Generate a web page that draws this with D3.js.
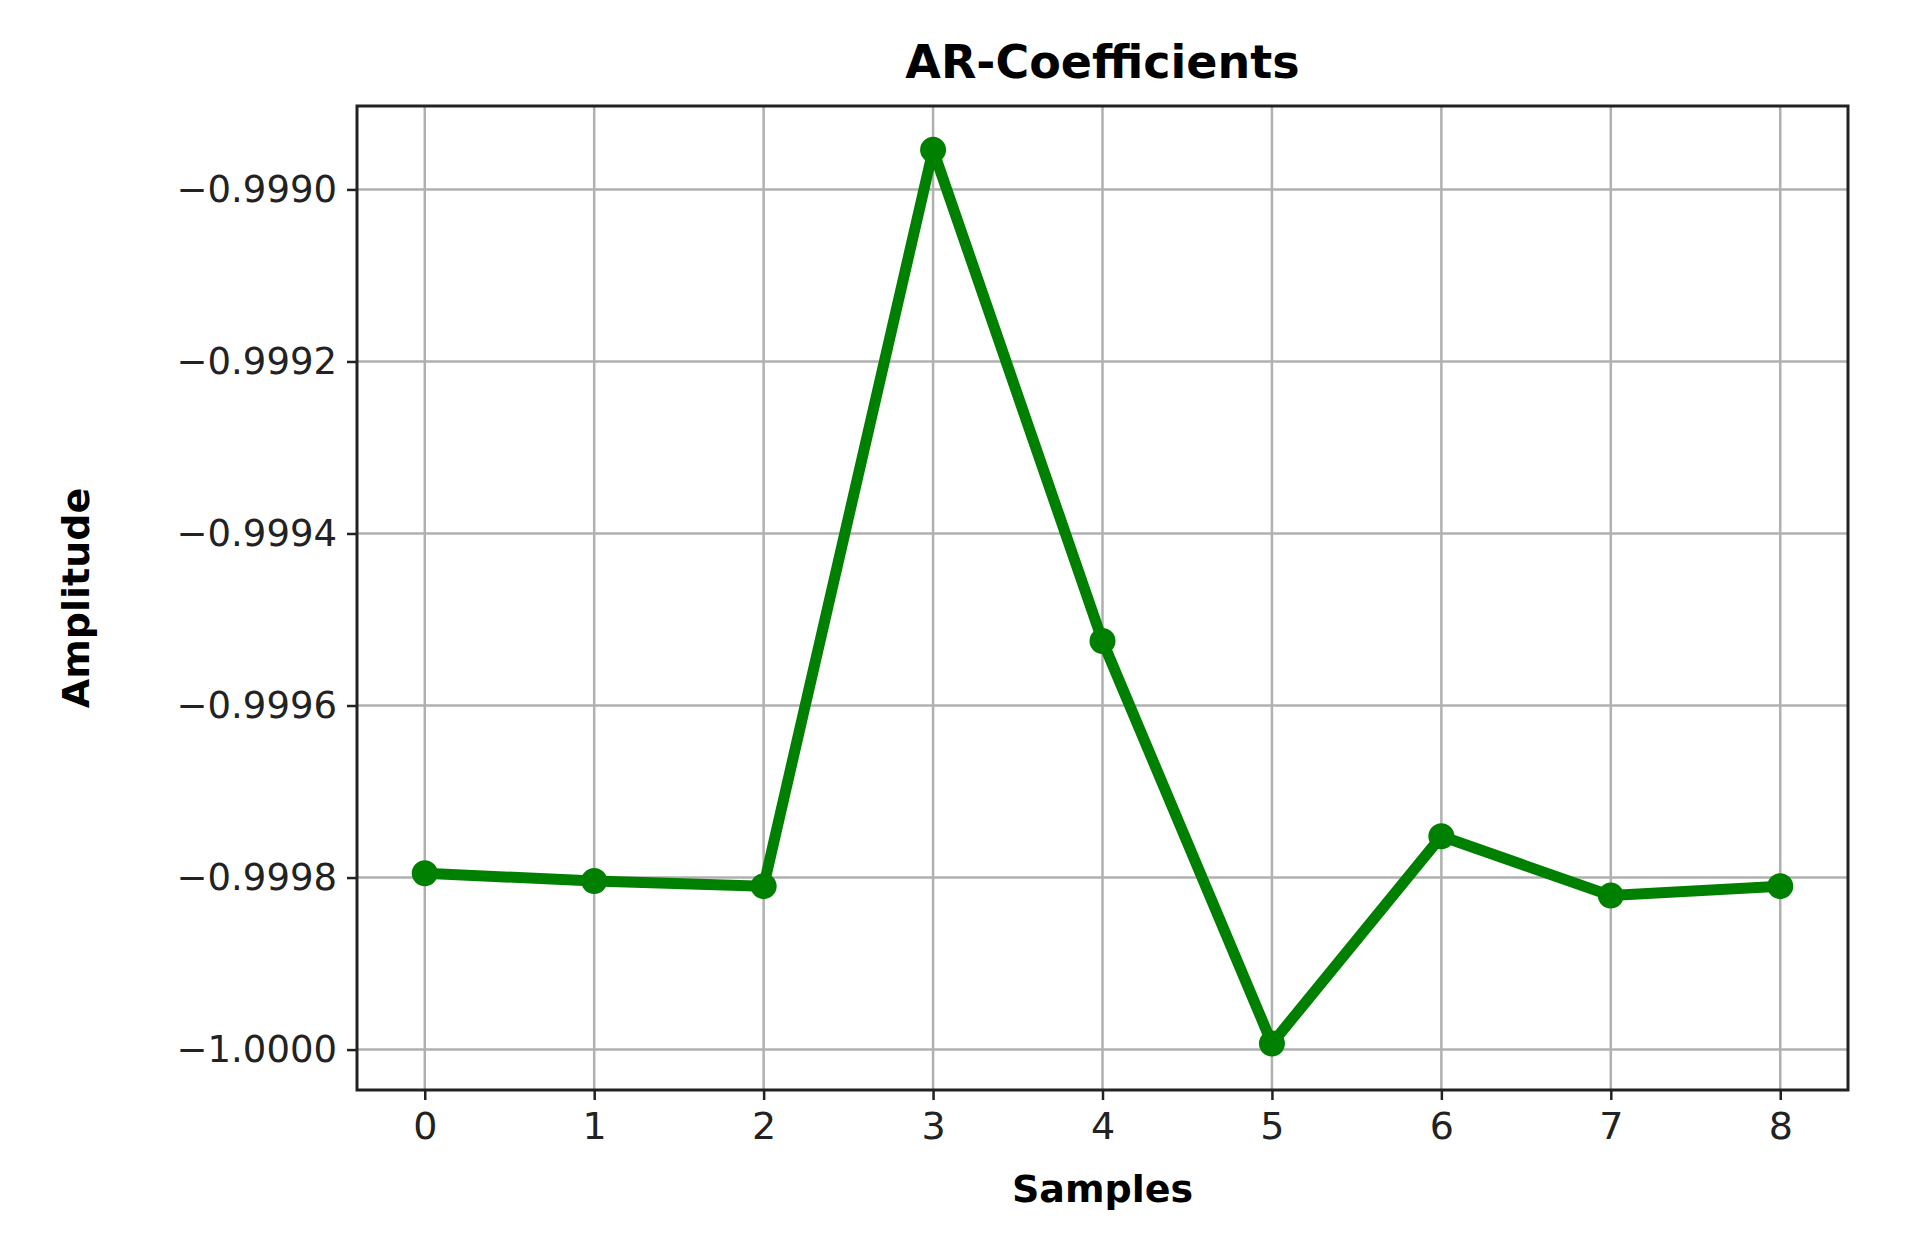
<!DOCTYPE html>
<html>
<head>
<meta charset="utf-8">
<script src="https://cdn.jsdelivr.net/npm/d3@7"></script>
<style>
  body { margin: 0; background: #fff; }
  text { font-family: "DejaVu Sans", sans-serif; }
</style>
</head>
<body>
<div id="chart"></div>
<script>
// Data
const samples = [0, 1, 2, 3, 4, 5, 6, 7, 8];
const amplitude = [-0.999795, -0.999804, -0.999810, -0.998954, -0.999525, -0.999993, -0.999752, -0.999821, -0.999810];
const yTicks = [-1.0000, -0.9998, -0.9996, -0.9994, -0.9992, -0.9990];

const W = 1906, H = 1254;
const margin = {top: 106, right: 58, bottom: 164, left: 357};
const width = W - margin.left - margin.right,
      height = H - margin.top - margin.bottom;

const svg = d3.select("#chart").append("svg")
    .attr("width", W)
    .attr("height", H)
  .append("g")
    .attr("transform", "translate(" + margin.left + "," + margin.top + ")");

const x = d3.scaleLinear().domain([-0.4, 8.4]).range([0, width]);
const y = d3.scaleLinear().domain([-1.000047, -0.998903]).range([height, 0]);

// grid
svg.append("g").selectAll("line").data(samples).enter().append("line")
    .attr("x1", d => x(d)).attr("x2", d => x(d))
    .attr("y1", 0).attr("y2", height)
    .attr("stroke", "#b0b0b0").attr("stroke-width", 2.5);
svg.append("g").selectAll("line").data(yTicks).enter().append("line")
    .attr("y1", d => y(d)).attr("y2", d => y(d))
    .attr("x1", 0).attr("x2", width)
    .attr("stroke", "#b0b0b0").attr("stroke-width", 2.5);

const xAxis = d3.axisBottom(x).tickValues(samples).tickSize(10).tickPadding(12);
const yAxis = d3.axisLeft(y).tickValues(yTicks).tickSize(10).tickPadding(10)
    .tickFormat(d => d3.format(".4f")(d).replace("-", "\u2212"));

svg.append("g").attr("transform", "translate(0," + height + ")").call(xAxis)
    .call(g => g.select(".domain").remove())
    .call(g => g.selectAll("text").attr("font-size", 38).attr("fill", "#222"))
    .call(g => g.selectAll("line").attr("stroke", "#222").attr("stroke-width", 2.5));
svg.append("g").call(yAxis)
    .call(g => g.select(".domain").remove())
    .call(g => g.selectAll("text").attr("font-size", 37).attr("fill", "#222"))
    .call(g => g.selectAll("line").attr("stroke", "#222").attr("stroke-width", 2.5));

svg.append("rect").attr("width", width).attr("height", height)
    .attr("fill", "none").attr("stroke", "#222").attr("stroke-width", 3);

const pts = samples.map((s, i) => [s, amplitude[i]]);
const line = d3.line().x(d => x(d[0])).y(d => y(d[1]));
svg.append("path").datum(pts).attr("d", line)
    .attr("fill", "none").attr("stroke", "green").attr("stroke-width", 11)
    .attr("stroke-linejoin", "round");
svg.selectAll("circle").data(pts).enter().append("circle")
    .attr("cx", d => x(d[0])).attr("cy", d => y(d[1])).attr("r", 13)
    .attr("fill", "green");

svg.append("text").attr("x", width / 2).attr("y", -28)
    .attr("text-anchor", "middle").attr("font-size", 46).attr("font-weight", "bold")
    .text("AR-Coefficients");
svg.append("text").attr("x", width / 2).attr("y", height + 112)
    .attr("text-anchor", "middle").attr("font-size", 38).attr("font-weight", "bold")
    .text("Samples");
svg.append("text").attr("transform", "rotate(-90)")
    .attr("x", -height / 2).attr("y", -268)
    .attr("text-anchor", "middle").attr("font-size", 38).attr("font-weight", "bold")
    .text("Amplitude");
</script>
</body>
</html>
